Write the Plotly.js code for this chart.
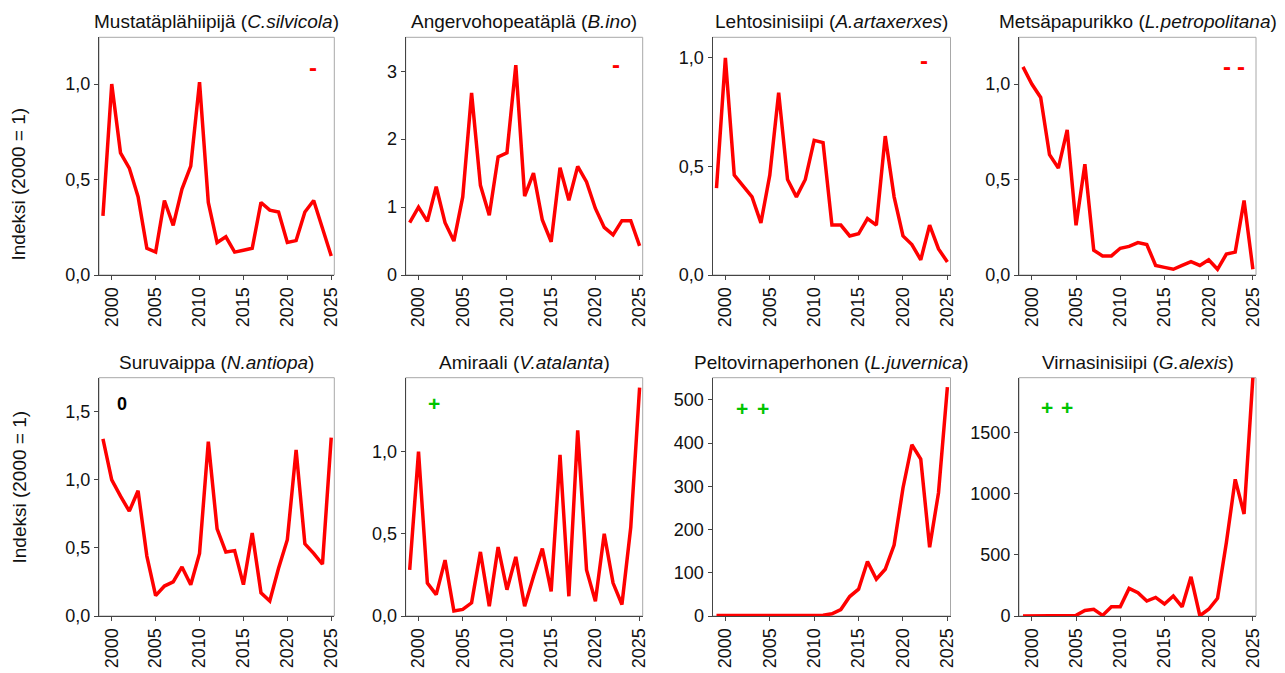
<!DOCTYPE html>
<html>
<head>
<meta charset="utf-8">
<script src="https://cdn.plot.ly/plotly-3.0.1.min.js"></script>
<style>html,body{margin:0;padding:0;background:#fff;}#chart{width:1285px;height:673px;}</style>
</head>
<body>
<div id="chart"></div>
<script>
// ---- data ----
var years = [1999,2000,2001,2002,2003,2004,2005,2006,2007,2008,2009,2010,2011,2012,2013,2014,2015,2016,2017,2018,2019,2020,2021,2022,2023,2024,2025];
var silvicola     = [0.31,1.0,0.64,0.56,0.41,0.14,0.12,0.39,0.26,0.45,0.57,1.01,0.38,0.17,0.20,0.12,0.13,0.14,0.38,0.34,0.33,0.17,0.18,0.33,0.39,0.25,0.10];
var ino           = [0.77,1.0,0.79,1.30,0.77,0.50,1.15,2.68,1.32,0.88,1.74,1.80,3.09,1.16,1.50,0.81,0.49,1.58,1.10,1.60,1.37,0.98,0.70,0.59,0.80,0.80,0.43];
var artaxerxes    = [0.40,1.0,0.46,0.41,0.36,0.24,0.46,0.84,0.44,0.36,0.44,0.62,0.61,0.23,0.23,0.18,0.19,0.26,0.23,0.64,0.36,0.18,0.14,0.07,0.23,0.12,0.06];
var petropolitana = [1.09,1.0,0.93,0.63,0.56,0.76,0.26,0.58,0.13,0.10,0.10,0.14,0.15,0.17,0.16,0.05,0.04,0.03,0.05,0.07,0.05,0.08,0.03,0.11,0.12,0.39,0.03];
var antiopa       = [1.30,1.0,0.88,0.77,0.92,0.44,0.15,0.22,0.25,0.36,0.23,0.46,1.28,0.64,0.47,0.48,0.23,0.61,0.17,0.11,0.35,0.56,1.22,0.53,0.46,0.38,1.31];
var atalanta      = [0.28,1.0,0.20,0.13,0.34,0.03,0.04,0.08,0.39,0.06,0.42,0.16,0.36,0.06,0.24,0.41,0.15,0.98,0.12,1.13,0.28,0.09,0.50,0.20,0.07,0.54,1.39];
var juvernica     = [1,1,1,1,1,1,1,1,1,1,1,1,2,5,15,45,62,126,85,108,164,296,396,363,159,285,529];
var alexis        = [1,1,1,1,1,1,5,45,55,5,75,75,225,190,122,152,98,163,75,320,2,55,145,600,1116,833,1950];

var titles = [
  "Mustatäplähiipijä (<i>C.silvicola</i>)",
  "Angervohopeatäplä (<i>B.ino</i>)",
  "Lehtosinisiipi (<i>A.artaxerxes</i>)",
  "Metsäpapurikko (<i>L.petropolitana</i>)",
  "Suruvaippa (<i>N.antiopa</i>)",
  "Amiraali (<i>V.atalanta</i>)",
  "Peltovirnaperhonen (<i>L.juvernica</i>)",
  "Virnasinisiipi (<i>G.alexis</i>)"
];
var yTitle = "Indeksi (2000 = 1)";
var xTickVals = [2000,2005,2010,2015,2020,2025];
var xTickText = ["2000","2005","2010","2015","2020","2025"];

var yTickVals = [
  [0,0.5,1.0], [0,1,2,3], [0,0.5,1.0], [0,0.5,1.0],
  [0,0.5,1.0,1.5], [0,0.5,1.0], [0,100,200,300,400,500], [0,500,1000,1500]
];
var yTickText = [
  ["0,0","0,5","1,0"], ["0","1","2","3"], ["0,0","0,5","1,0"], ["0,0","0,5","1,0"],
  ["0,0","0,5","1,0","1,5"], ["0,0","0,5","1,0"], ["0","100","200","300","400","500"], ["0","500","1000","1500"]
];
var yMax = [1.245, 3.5, 1.095, 1.245, 1.75, 1.45, 551, 1946];
var series = [silvicola, ino, artaxerxes, petropolitana, antiopa, atalanta, juvernica, alexis];

// ---- layout geometry (pixels) ----
var W = 1285, H = 673;
var colPx = [[99,334.3],[405.7,642.7],[712.5,950.5],[1019,1256]];
var rowPx = [[37.3,275],[377.7,616]];

var FONT = "Liberation Sans, Arial, sans-serif";
var data = [];
var layout = {
  width: W, height: H,
  margin: {l:0, r:0, t:0, b:0},
  paper_bgcolor: "#fff", plot_bgcolor: "#fff",
  showlegend: false,
  font: {family: FONT, size: 18, color: "#111"},
  annotations: [], shapes: []
};

for (var i = 0; i < 8; i++) {
  var r = Math.floor(i / 4), c = i % 4;
  var n = i + 1;
  var xa = "xaxis" + (n === 1 ? "" : n), ya = "yaxis" + (n === 1 ? "" : n);
  var xr = "x" + (n === 1 ? "" : n), yr = "y" + (n === 1 ? "" : n);
  data.push({
    x: years, y: series[i], xaxis: xr, yaxis: yr,
    type: "scatter", mode: "lines",
    line: {color: "#ff0000", width: 3.5},
    cliponaxis: true, hoverinfo: "x+y"
  });
  layout[xa] = {
    domain: [colPx[c][0] / W, colPx[c][1] / W],
    anchor: yr, range: [1998.55, 2025.35],
    tickvals: xTickVals, ticktext: xTickText, tickangle: -90,
    ticks: "outside", ticklen: 4, tickcolor: "#444", tickwidth: 1,
    showline: true, linecolor: "#444", linewidth: 1,
    showgrid: false, zeroline: false,
    tickfont: {family: FONT, size: 18, color: "#111"}
  };
  layout[ya] = {
    domain: [1 - rowPx[r][1] / H, 1 - rowPx[r][0] / H],
    anchor: xr, range: [0, yMax[i]],
    tickvals: yTickVals[i], ticktext: yTickText[i],
    ticks: "outside", ticklen: 4, tickcolor: "#444", tickwidth: 1,
    showline: true, linecolor: "#444", linewidth: 1,
    showgrid: false, zeroline: false,
    tickfont: {family: FONT, size: 18, color: "#111"}
  };
  layout.shapes.push({
    type: "rect", xref: xr + " domain", yref: yr + " domain",
    x0: 0, x1: 1, y0: 0, y1: 1, layer: "below",
    line: {color: "#a8a8a8", width: 1}
  });
  layout.annotations.push({
    text: titles[i], xref: xr + " domain", yref: "paper",
    x: 0.5, y: 1 - (r === 0 ? 21 : 362) / H, xanchor: "center", yanchor: "middle",
    showarrow: false, font: {family: FONT, size: 19, color: "#111"}
  });
}

// y-axis titles
[184, 487].forEach(function (py) {
  layout.annotations.push({
    text: yTitle, xref: "paper", yref: "paper", x: 18.5 / W, y: 1 - py / H,
    xanchor: "center", yanchor: "middle", textangle: -90, showarrow: false,
    font: {family: FONT, size: 19, color: "#111"}
  });
});

// significance markers
function mark(txt, px, py, color, size) {
  layout.annotations.push({
    text: "<b>" + txt + "</b>", xref: "paper", yref: "paper", x: px / W, y: 1 - py / H,
    xanchor: "center", yanchor: "middle", showarrow: false,
    font: {family: FONT, size: size, color: color}
  });
}
var RED = "#ff0000", GREEN = "#00c400";
mark("-", 313, 68, RED, 24);
mark("-", 615.7, 64, RED, 24);
mark("-", 924.3, 60, RED, 24);
mark("-", 1226.5, 67, RED, 24);
mark("-", 1241, 67, RED, 24);
mark("0", 122, 403.5, "#000", 18);
mark("+", 434.3, 403.3, GREEN, 21);
mark("+", 742.3, 409, GREEN, 21);
mark("+", 762.7, 409, GREEN, 21);
mark("+", 1047.3, 408, GREEN, 21);
mark("+", 1067.3, 408, GREEN, 21);

Plotly.newPlot("chart", data, layout, {displayModeBar: false, staticPlot: true});
</script>
</body>
</html>
